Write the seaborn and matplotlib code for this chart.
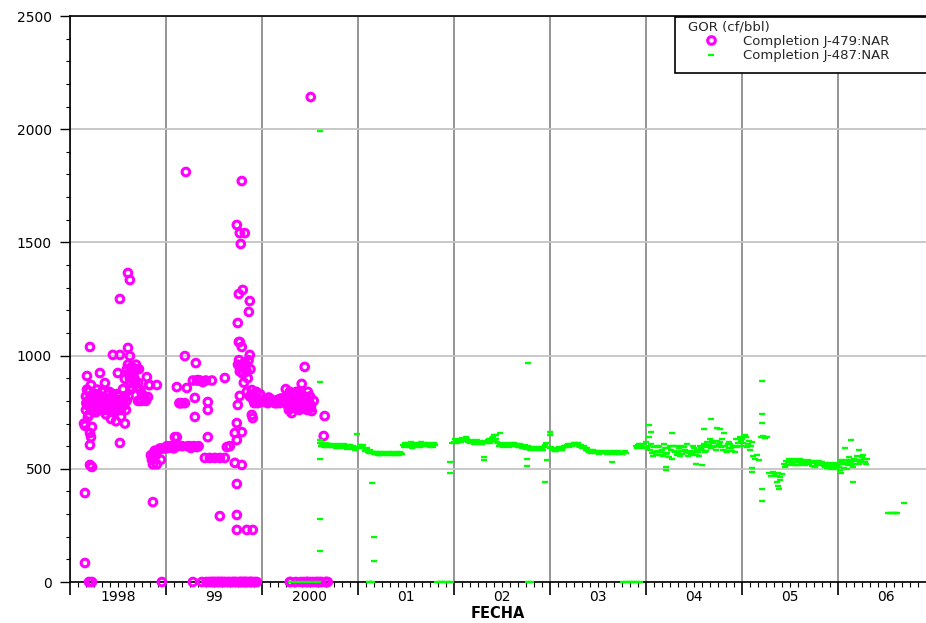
import matplotlib
matplotlib.use("Agg")
import matplotlib.pyplot as plt
import seaborn as sns
import pandas as pd
from matplotlib.lines import Line2D
from matplotlib.patches import Rectangle

# ---------------- data (decimal year, GOR cf/bbl) ----------------
# Completion J-479:NAR
mag98_year = [
    1998.146, 1998.156, 1998.156, 1998.156, 1998.166, 1998.166, 1998.177, 1998.177, 1998.187, 1998.187,
    1998.187, 1998.198, 1998.198, 1998.208, 1998.208, 1998.208, 1998.208, 1998.219, 1998.219, 1998.229,
    1998.229, 1998.229, 1998.239, 1998.250, 1998.260, 1998.271, 1998.281, 1998.291, 1998.302, 1998.312,
    1998.312, 1998.323, 1998.333, 1998.343, 1998.354, 1998.364, 1998.364, 1998.375, 1998.385, 1998.395,
    1998.406, 1998.416, 1998.427, 1998.437, 1998.447, 1998.447, 1998.458, 1998.468, 1998.479, 1998.489,
    1998.499, 1998.499, 1998.510, 1998.520, 1998.520, 1998.520, 1998.531, 1998.541, 1998.552, 1998.562,
    1998.572, 1998.572, 1998.583, 1998.593, 1998.604, 1998.604, 1998.604, 1998.614, 1998.624, 1998.624,
    1998.624, 1998.635, 1998.645, 1998.656, 1998.666, 1998.676, 1998.687, 1998.697, 1998.708, 1998.718,
    1998.728, 1998.749, 1998.770, 1998.791, 1998.801, 1998.812, 1998.822, 1998.832, 1998.843, 1998.853,
    1998.864, 1998.864, 1998.874, 1998.884, 1998.895, 1998.905, 1998.905, 1998.916, 1998.937, 1998.947,
    1998.957, 1998.968, 1998.989,
    1998.170, 1998.200, 1998.230, 1998.250, 1998.270, 1998.290, 1998.310, 1998.330, 1998.350, 1998.370,
    1998.390, 1998.410, 1998.430, 1998.450, 1998.470, 1998.490, 1998.510, 1998.530, 1998.550, 1998.570,
    1998.590, 1998.610, 1998.630, 1998.650, 1998.670, 1998.690, 1998.710, 1998.730, 1998.750, 1998.780,
]
mag98_gor = [
    700, 690, 393, 84, 760, 820, 910, 850, 780, 729,
    800, 840, 0, 1038, 658, 605, 517, 640, 870, 685,
    508, 0, 810, 760, 830, 790, 850, 780, 800, 923,
    760, 820, 840, 790, 760, 879, 810, 740, 800, 830,
    770, 800, 720, 780, 1003, 830, 750, 810, 710, 790,
    923, 760, 820, 614, 1250, 1003, 730, 800, 852, 780,
    897, 700, 760, 940, 1365, 1034, 960, 920, 1334, 998,
    900, 850, 950, 901, 930, 880, 960, 861, 800, 940,
    800, 800, 820, 800, 905, 817, 870, 870, 560, 540,
    353, 520, 570, 580, 560, 870, 520, 580, 590, 540,
    0, 590, 590,
    790, 740, 770, 830, 750, 820, 800, 770, 810, 790,
    760, 840, 800, 790, 760, 830, 780, 760, 800, 820,
    800, 820, 880, 860, 900, 940, 880, 850, 830, 810,
]
mag99_year = [
    1999.009, 1999.041, 1999.061, 1999.093, 1999.113, 1999.113, 1999.124, 1999.145, 1999.165, 1999.197,
    1999.197, 1999.207, 1999.217, 1999.228, 1999.249, 1999.280, 1999.280, 1999.301, 1999.301, 1999.311,
    1999.322, 1999.332, 1999.353, 1999.374, 1999.384, 1999.405, 1999.415, 1999.436, 1999.436, 1999.436,
    1999.457, 1999.478, 1999.488, 1999.509, 1999.540, 1999.561, 1999.561, 1999.582, 1999.613, 1999.613,
    1999.634, 1999.644, 1999.665, 1999.686, 1999.717, 1999.717, 1999.717, 1999.738, 1999.738, 1999.738,
    1999.738, 1999.738, 1999.738, 1999.748, 1999.748, 1999.759, 1999.759, 1999.769, 1999.769, 1999.769,
    1999.769, 1999.779, 1999.779, 1999.790, 1999.790, 1999.790, 1999.790, 1999.800, 1999.800, 1999.811,
    1999.821, 1999.821, 1999.831, 1999.842, 1999.842, 1999.852, 1999.863, 1999.873, 1999.873, 1999.873,
    1999.883, 1999.894, 1999.894, 1999.904, 1999.904, 1999.915, 1999.925, 1999.935, 1999.946, 1999.956,
    1999.977, 1999.998,
    1999.020, 1999.050, 1999.080, 1999.140, 1999.170, 1999.240, 1999.260, 1999.290, 1999.320, 1999.340,
    1999.420, 1999.450, 1999.470, 1999.500, 1999.520, 1999.550, 1999.570, 1999.600, 1999.620, 1999.660,
    1999.700, 1999.730, 1999.760, 1999.780, 1999.800, 1999.820, 1999.840, 1999.860, 1999.880, 1999.900,
    1999.750, 1999.760, 1999.780, 1999.800, 1999.820, 1999.840, 1999.860, 1999.880, 1999.900, 1999.920,
    1999.940, 1999.960, 1999.980,
]
mag99_gor = [
    600, 600, 600, 640, 861, 640, 600, 790, 790, 998,
    790, 1811, 857, 600, 600, 0, 890, 813, 729, 967,
    890, 892, 890, 0, 883, 548, 890, 795, 760, 640,
    548, 890, 0, 548, 0, 548, 291, 0, 901, 548,
    596, 0, 600, 0, 658, 526, 0, 702, 627, 433,
    296, 230, 1577, 782, 1144, 1272, 1060, 1060, 822, 1541,
    930, 1493, 0, 1771, 662, 1038, 517, 1290, 960, 880,
    1541, 0, 940, 230, 840, 900, 1193, 1241, 1003, 820,
    0, 848, 738, 724, 230, 800, 0, 810, 0, 790,
    800, 795,
    592, 595, 590, 790, 600, 598, 592, 600, 596, 600,
    0, 0, 0, 0, 0, 0, 0, 0, 0, 0,
    0, 0, 0, 0, 0, 0, 0, 0, 0, 0,
    960, 980, 950, 920, 970, 930, 980, 940, 810, 790,
    840, 800, 830,
]
mag00_year = [
    2000.029, 2000.060, 2000.081, 2000.102, 2000.133, 2000.164, 2000.185, 2000.206, 2000.227, 2000.248,
    2000.258, 2000.268, 2000.289, 2000.289, 2000.310, 2000.320, 2000.331, 2000.341, 2000.352, 2000.362,
    2000.373, 2000.393, 2000.404, 2000.414, 2000.425, 2000.435, 2000.445, 2000.445, 2000.456, 2000.466,
    2000.477, 2000.487, 2000.497, 2000.508, 2000.508, 2000.518, 2000.529, 2000.539, 2000.560, 2000.581,
    2000.601, 2000.643, 2000.653, 2000.664, 2000.685,
    2000.270, 2000.280, 2000.300, 2000.300, 2000.320, 2000.330, 2000.350, 2000.360, 2000.380, 2000.390,
    2000.400, 2000.420, 2000.430, 2000.440, 2000.460, 2000.470, 2000.490, 2000.500, 2000.510, 2000.010,
    2000.045, 2000.070, 2000.115, 2000.150, 2000.195, 2000.240, 2000.300, 2000.470, 2000.620, 2000.670,
]
mag00_gor = [
    800, 790, 810, 800, 790, 805, 790, 810, 800, 852,
    820, 780, 0, 840, 746, 800, 830, 790, 0, 810,
    770, 820, 0, 875, 790, 0, 950, 810, 780, 0,
    840, 800, 0, 2142, 770, 755, 0, 800, 0, 0,
    0, 645, 733, 0, 0,
    800, 760, 790, 820, 770, 810, 780, 840, 800, 760,
    830, 800, 770, 820, 800, 760, 790, 820, 780, 805,
    795, 815, 800, 790, 810, 800, 0, 0, 0, 0,
]

# Completion J-487:NAR
grn00_year = [2000.60, 2000.62, 2000.64, 2000.66, 2000.68, 2000.70, 2000.72, 2000.74, 2000.76, 2000.78,
              2000.80, 2000.82, 2000.84, 2000.86, 2000.88, 2000.90, 2000.92, 2000.94, 2000.96, 2000.98,
              2000.61, 2000.63, 2000.65, 2000.67, 2000.69, 2000.71, 2000.73, 2000.75, 2000.77, 2000.79,
              2000.81, 2000.83, 2000.85, 2000.87, 2000.89, 2000.91, 2000.93, 2000.95, 2000.97, 2000.99]
grn00_gor = [612, 603, 616, 606, 598, 610, 602, 595, 607, 600,
             592, 604, 597, 590, 601, 594, 603, 589, 596, 588,
             600, 612, 598, 615, 607, 596, 610, 604, 592, 608,
             601, 596, 609, 598, 588, 604, 592, 600, 584, 594]
grn01_year = [2001.00, 2001.02, 2001.04, 2001.06, 2001.08, 2001.10, 2001.12, 2001.14, 2001.16, 2001.18,
              2001.20, 2001.22, 2001.24, 2001.26, 2001.28, 2001.30, 2001.32, 2001.34, 2001.36, 2001.38,
              2001.40, 2001.42, 2001.44, 2001.46, 2001.48, 2001.50, 2001.52, 2001.54, 2001.56, 2001.58,
              2001.60, 2001.62, 2001.64, 2001.66, 2001.68, 2001.70, 2001.72, 2001.74, 2001.76, 2001.78,
              2001.80, 2001.56, 2001.66, 2001.98,
              2001.01, 2001.03, 2001.05, 2001.07, 2001.09, 2001.11, 2001.13, 2001.15, 2001.17, 2001.19,
              2001.21, 2001.23, 2001.25, 2001.27, 2001.29, 2001.31, 2001.33, 2001.35, 2001.37, 2001.39,
              2001.41, 2001.43, 2001.45, 2001.47, 2001.49, 2001.51, 2001.53, 2001.55, 2001.57, 2001.59,
              2001.61, 2001.63, 2001.65, 2001.67, 2001.69, 2001.71, 2001.73, 2001.75, 2001.77, 2001.79]
grn01_gor = [598, 606, 600, 593, 585, 576, 580, 570, 574, 566,
             572, 563, 568, 560, 570, 565, 573, 562, 567, 571,
             563, 569, 574, 566, 598, 606, 612, 603, 609, 615,
             605, 598, 610, 602, 607, 613, 600, 606, 611, 597,
             604, 590, 618, 612,
             590, 600, 604, 580, 590, 570, 585, 575, 565, 575,
             560, 572, 565, 575, 560, 570, 566, 575, 560, 565,
             572, 560, 568, 605, 612, 600, 596, 618, 605, 600,
             612, 604, 596, 612, 600, 605, 614, 598, 604, 612]
grn02_year = [2002.00, 2002.02, 2002.04, 2002.06, 2002.08, 2002.10, 2002.12, 2002.14, 2002.16, 2002.18,
              2002.20, 2002.22, 2002.24, 2002.26, 2002.28, 2002.30, 2002.32, 2002.34, 2002.36, 2002.38,
              2002.40, 2002.42, 2002.44, 2002.46, 2002.48, 2002.50, 2002.52, 2002.54, 2002.56, 2002.58,
              2002.60, 2002.62, 2002.64, 2002.66, 2002.68, 2002.70, 2002.72, 2002.74, 2002.76, 2002.78,
              2002.80, 2002.82, 2002.84, 2002.86, 2002.88, 2002.90, 2002.92, 2002.94, 2002.96,
              2002.01, 2002.03, 2002.05, 2002.07, 2002.09, 2002.11, 2002.13, 2002.15, 2002.17, 2002.19,
              2002.21, 2002.23, 2002.25, 2002.27, 2002.29, 2002.31, 2002.33, 2002.35, 2002.37, 2002.39,
              2002.41, 2002.43, 2002.45, 2002.47, 2002.49, 2002.51, 2002.53, 2002.55, 2002.57, 2002.59,
              2002.61, 2002.63, 2002.65, 2002.67, 2002.69, 2002.71, 2002.73, 2002.75, 2002.77, 2002.79,
              2002.81, 2002.83, 2002.85, 2002.87, 2002.89, 2002.91, 2002.93, 2002.95]
grn02_gor = [620, 625, 618, 630, 636, 628, 640, 632, 625, 618,
             622, 615, 626, 610, 620, 614, 625, 618, 630, 622,
             638, 648, 630, 612, 605, 600, 608, 602, 610, 604,
             612, 606, 600, 608, 597, 604, 598, 606, 595, 590,
             598, 585, 594, 588, 596, 584, 590, 598, 615,
             630, 612, 625, 620, 628, 622, 635, 620, 612, 628,
             610, 622, 618, 625, 610, 620, 612, 628, 615, 632,
             640, 625, 620, 600, 612, 595, 600, 615, 598, 610,
             600, 612, 605, 598, 610, 592, 602, 588, 600, 585,
             592, 598, 582, 592, 586, 595, 585, 605]
grn03_year = [2003.00, 2003.02, 2003.04, 2003.06, 2003.08, 2003.10, 2003.12, 2003.14, 2003.16, 2003.18,
              2003.20, 2003.22, 2003.24, 2003.26, 2003.28, 2003.30, 2003.32, 2003.34, 2003.36, 2003.38,
              2003.40, 2003.42, 2003.44, 2003.46, 2003.48, 2003.50, 2003.52, 2003.54, 2003.56, 2003.58,
              2003.60, 2003.62, 2003.64, 2003.66, 2003.68, 2003.70, 2003.72, 2003.74, 2003.76, 2003.78,
              2003.90, 2003.92, 2003.94, 2003.96, 2003.98,
              2003.01, 2003.03, 2003.05, 2003.07, 2003.09, 2003.11, 2003.13, 2003.15, 2003.17, 2003.19,
              2003.21, 2003.23, 2003.25, 2003.27, 2003.29, 2003.31, 2003.33, 2003.35, 2003.37, 2003.39,
              2003.41, 2003.43, 2003.45, 2003.47, 2003.49, 2003.51, 2003.53, 2003.55, 2003.57, 2003.59,
              2003.61, 2003.63, 2003.65, 2003.67, 2003.69, 2003.71, 2003.73, 2003.75, 2003.77, 2003.79,
              2003.91, 2003.93, 2003.95, 2003.97]
grn03_gor = [590, 582, 588, 578, 592, 585, 596, 590, 600, 604,
             598, 610, 605, 614, 608, 600, 605, 596, 590, 584,
             578, 583, 575, 580, 572, 577, 570, 575, 580, 572,
             576, 570, 574, 568, 577, 572, 566, 575, 570, 578,
             600, 605, 595, 610, 598,
             596, 590, 580, 586, 596, 590, 585, 600, 596, 610,
             605, 600, 612, 604, 615, 598, 592, 600, 585, 590,
             575, 570, 582, 568, 578, 565, 572, 568, 575, 566,
             572, 578, 565, 572, 566, 578, 570, 565, 574, 568,
             592, 610, 600, 590]
grn04_year = [2004.00, 2004.02, 2004.04, 2004.06, 2004.08, 2004.10, 2004.12, 2004.14, 2004.16, 2004.18,
              2004.20, 2004.22, 2004.24, 2004.26, 2004.28, 2004.30, 2004.32, 2004.34, 2004.36, 2004.38,
              2004.40, 2004.42, 2004.44, 2004.46, 2004.48, 2004.50, 2004.52, 2004.54, 2004.56, 2004.58,
              2004.60, 2004.62, 2004.64, 2004.66, 2004.68, 2004.70, 2004.72, 2004.74, 2004.76, 2004.78,
              2004.80, 2004.82, 2004.84, 2004.86, 2004.88, 2004.90, 2004.92, 2004.94, 2004.96, 2004.98,
              2004.01, 2004.05, 2004.09, 2004.13, 2004.17, 2004.21, 2004.25, 2004.29, 2004.33, 2004.37,
              2004.41, 2004.45, 2004.49, 2004.53, 2004.57, 2004.61, 2004.65, 2004.69, 2004.73, 2004.77,
              2004.81, 2004.85, 2004.89, 2004.93, 2004.97,
              2004.03, 2004.07, 2004.11, 2004.15, 2004.19, 2004.23, 2004.27, 2004.31, 2004.35, 2004.39,
              2004.43, 2004.47, 2004.51, 2004.55, 2004.59, 2004.63, 2004.67, 2004.71, 2004.75, 2004.79,
              2004.83, 2004.87, 2004.91, 2004.95, 2004.99]
grn04_gor = [620, 600, 585, 570, 595, 560, 580, 600, 575, 555,
             590, 570, 550, 585, 600, 575, 560, 590, 580, 565,
             595, 575, 555, 580, 570, 590, 560, 575, 600, 585,
             610, 595, 620, 605, 590, 615, 600, 625, 610, 595,
             585, 600, 575, 590, 610, 580, 600, 630, 615, 640,
             590, 610, 575, 595, 585, 565, 600, 580, 570, 600,
             585, 570, 600, 585, 590, 575, 600, 625, 585, 620,
             600, 610, 590, 575, 600,
             640, 555, 600, 560, 610, 590, 545, 600, 555, 595,
             610, 560, 575, 555, 600, 580, 630, 595, 600, 630,
             580, 620, 600, 595, 625]
grn05_year = [2005.00, 2005.02, 2005.04, 2005.06, 2005.08, 2005.10, 2005.12, 2005.14, 2005.16, 2005.18,
              2005.20, 2005.22, 2005.24, 2005.26, 2005.28, 2005.30, 2005.32, 2005.34, 2005.36, 2005.38,
              2005.40, 2005.42, 2005.37, 2005.38, 2005.39, 2005.40, 2005.44, 2005.46, 2005.48, 2005.50,
              2005.52, 2005.54, 2005.56, 2005.58, 2005.60, 2005.62, 2005.64, 2005.66, 2005.68, 2005.70,
              2005.72, 2005.74, 2005.76, 2005.78, 2005.80, 2005.82, 2005.84, 2005.86, 2005.88, 2005.90,
              2005.92, 2005.94, 2005.96, 2005.98,
              2005.45, 2005.49, 2005.53, 2005.57, 2005.61, 2005.65, 2005.69, 2005.73, 2005.77, 2005.81,
              2005.85, 2005.89, 2005.93, 2005.97,
              2005.01, 2005.03, 2005.05, 2005.07, 2005.09, 2005.47, 2005.51, 2005.55, 2005.59, 2005.63,
              2005.67, 2005.71, 2005.75, 2005.79, 2005.83, 2005.87, 2005.91, 2005.95, 2005.99]
grn05_gor = [630, 600, 640, 610, 585, 620, 555, 545, 560, 540,
             640, 645, 638, 642, 480, 470, 485, 475, 468, 480,
             465, 475, 440, 425, 410, 450, 520, 535, 528, 540,
             525, 532, 518, 530, 545, 522, 535, 515, 528, 520,
             530, 525, 510, 522, 535, 515, 520, 508, 525, 512,
             518, 505, 515, 500,
             510, 545, 515, 540, 525, 530, 540, 512, 530, 520,
             512, 505, 498, 525,
             615, 650, 595, 625, 600, 515, 530, 545, 515, 540,
             525, 535, 535, 515, 530, 520, 525, 510, 515]
grn06_year = [2006.00, 2006.02, 2006.04, 2006.06, 2006.08, 2006.10, 2006.12, 2006.14, 2006.16, 2006.18,
              2006.20, 2006.22, 2006.24, 2006.26, 2006.28, 2006.30,
              2006.01, 2006.03, 2006.05, 2006.07, 2006.09, 2006.11, 2006.13, 2006.15, 2006.17, 2006.19,
              2006.21, 2006.23, 2006.25, 2006.27, 2006.29,
              2006.52, 2006.54, 2006.56, 2006.58, 2006.60, 2006.62]
grn06_gor = [520, 495, 530, 505, 540, 515, 550, 525, 510, 535,
             555, 520, 540, 560, 530, 545,
             510, 540, 520, 525, 500, 530, 540, 515, 545, 520,
             540, 530, 550, 545, 520,
             306, 306, 305, 306, 305, 306]
grn_out_year = [2000.601, 2000.601, 2000.601, 2000.601, 2000.601, 2000.601, 2000.987, 2001.15, 2001.17, 2001.17,
                2001.96, 2001.96, 2002.31, 2002.31, 2002.766, 2002.76, 2002.76, 2002.943, 2002.974, 2002.995,
                2002.995, 2003.65, 2004.035, 2004.056, 2004.212, 2004.212, 2004.275, 2004.525, 2004.587, 2004.608,
                2004.681, 2004.743, 2004.816, 2004.77, 2005.107, 2005.107, 2005.211, 2005.211, 2005.211, 2005.211,
                2005.211, 2006.033, 2006.075, 2006.137, 2006.158, 2006.22, 2006.69, 2002.44, 2002.475]
grn_out_gor = [1992, 883, 627, 543, 278, 137, 654, 437, 199, 93,
               530, 481, 552, 539, 967, 512, 543, 442, 539, 663,
               650, 530, 693, 663, 508, 495, 658, 521, 517, 676,
               720, 680, 658, 676, 503, 486, 888, 742, 702, 411,
               358, 481, 592, 627, 442, 583, 349, 650, 658]
grn_zero_year = [2000.30, 2000.36, 2000.42, 2000.48, 2000.54, 2000.58, 2001.11, 2001.13, 2001.15, 2001.82,
                 2001.85, 2001.88, 2001.91, 2001.94, 2001.97, 2002.77, 2002.80, 2003.76, 2003.79, 2003.82,
                 2003.85, 2003.88, 2003.91, 2003.94]
grn_zero_gor = [0, 0, 0, 0, 0, 0, 0, 0, 0, 0,
                0, 0, 0, 0, 0, 0, 0, 0, 0, 0,
                0, 0, 0, 0]

year_ticks = [1998, 1999, 2000, 2001, 2002, 2003, 2004, 2005, 2006]
year_labels = ["1998", "99", "2000", "01", "02", "03", "04", "05", "06"]
series_labels = ["Completion J-479:NAR", "Completion J-487:NAR"]
legend_title = "GOR (cf/bbl)"

# ---------------- frames ----------------
mag = pd.DataFrame({"FECHA": mag98_year + mag99_year + mag00_year,
                    "GOR": mag98_gor + mag99_gor + mag00_gor})
grn = pd.DataFrame({"FECHA": grn00_year + grn01_year + grn02_year + grn03_year + grn04_year
                    + grn05_year + grn06_year + grn_out_year + grn_zero_year,
                    "GOR": grn00_gor + grn01_gor + grn02_gor + grn03_gor + grn04_gor
                    + grn05_gor + grn06_gor + grn_out_gor + grn_zero_gor})

sns.set_theme(style="white")
plt.rcParams["font.family"] = ["DejaVu Sans"]

MAG = "#ff00ff"
GRN = "#00ff00"

fig = plt.figure(figsize=(9.26, 6.23), dpi=100)
ax = fig.add_axes([70 / 926, 41 / 623, 856 / 926, 566 / 623])

sns.scatterplot(data=mag, x="FECHA", y="GOR", marker="o", s=30, ax=ax,
                legend=False, zorder=3, clip_on=False)
c1 = ax.collections[-1]
c1.set_facecolor("none")
c1.set_edgecolor(MAG)
c1.set_linewidth(2.2)

sns.scatterplot(data=grn, x="FECHA", y="GOR", marker="_", s=24, ax=ax,
                legend=False, zorder=4, clip_on=False)
c2 = ax.collections[-1]
c2.set_edgecolor(GRN)
c2.set_facecolor(GRN)
c2.set_linewidth(1.7)

# axes
ax.set_xlim(1998.0, 2006.917)
ax.set_ylim(0, 2500)
ax.set_xticks(year_ticks)
ax.set_xticklabels([""] * len(year_ticks))
minor_pos, minor_lab = [], []
for y, lab in zip(year_ticks, year_labels):
    for m in range(1, 12):
        minor_pos.append(y + m / 12)
        minor_lab.append(lab if m == 6 else "")
ax.set_xticks(minor_pos, minor=True)
ax.set_xticklabels(minor_lab, minor=True)

ax.set_yticks(range(0, 2501, 500))
ax.set_yticks(range(0, 2501, 100), minor=True)

ax.tick_params(axis="x", which="major", direction="out", length=9, width=1.2,
               color="black", bottom=True)
ax.tick_params(axis="x", which="minor", direction="out", length=3.5, width=0.8,
               color="black", bottom=True, pad=2.5, labelsize=10, labelcolor="black")
ax.tick_params(axis="y", which="major", direction="out", length=7, width=1.0,
               color="black", left=True, pad=6, labelsize=10, labelcolor="black")
ax.tick_params(axis="y", which="minor", direction="out", length=3, width=0.8,
               color="black", left=True)

ax.xaxis.grid(True, which="major", color="#8c8c8c", linewidth=1.3)
ax.yaxis.grid(True, which="major", color="#c4c4c4", linewidth=1.3)
ax.set_axisbelow(True)

for side in ["left", "bottom", "top"]:
    ax.spines[side].set_visible(True)
    ax.spines[side].set_color("black")
    ax.spines[side].set_linewidth(1.2)
ax.spines["right"].set_visible(False)

ax.set_xlabel("FECHA", fontweight="bold", fontsize=10.5, labelpad=1.5, color="black")
ax.set_ylabel("")

# legend: frame drawn as a figure rectangle, entries placed inside it
frame = Rectangle((675 / 926, (623 - 73) / 623), 0.4, 56 / 623, transform=fig.transFigure,
                  facecolor="white", edgecolor="black", linewidth=1.2, zorder=4)
fig.patches.append(frame)
handles = [
    Line2D([], [], ls="none", marker="o", markersize=5.5, mfc="none", mec=MAG, mew=2.2),
    Line2D([], [], ls="none", marker="_", markersize=4.5, mec=GRN, mew=1.6),
]
leg = fig.legend(handles, series_labels, title=legend_title, loc="upper left",
                 bbox_to_anchor=(688 / 926, (623 - 20) / 623), frameon=False,
                 borderaxespad=0, borderpad=0, fontsize=9.5, title_fontsize=9.5,
                 alignment="left", handlelength=3.5, handletextpad=0.7,
                 labelspacing=0.12)
leg.set_zorder(5)

fig.savefig("out.png", dpi=100)
